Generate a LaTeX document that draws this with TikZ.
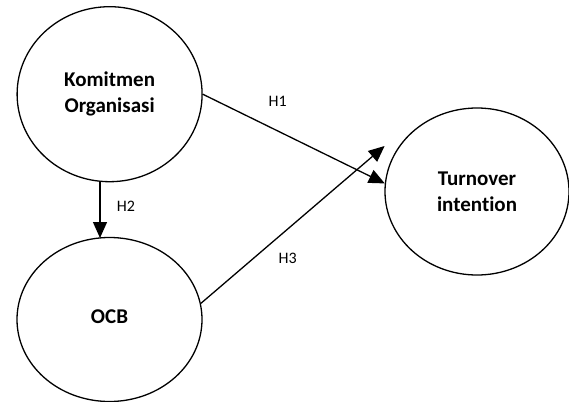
\documentclass[tikz,border=0pt]{standalone}
\usepackage{fontspec}
\setmainfont{Carlito}[Ligatures=NoCommon]
\usetikzlibrary{shapes.geometric,arrows.meta}
\begin{document}
\begin{tikzpicture}[x=1pt,y=-1pt,
  construct/.style={draw, line width=1.3pt, ellipse, inner sep=0pt, align=center,
    font=\fontsize{21}{26}\selectfont\bfseries},
  path/.style={draw, line width=1.3pt, -{Triangle[length=16pt,width=14pt]}},
  hyp/.style={font=\fontsize{16}{19}\selectfont, inner sep=0pt}]
\useasboundingbox (0,0) rectangle (569,401);
\fill[white] (0,0) rectangle (569,401);
\node[construct, minimum width=185pt, minimum height=175pt] (k) at (109.6,94.2) {Komitmen\\Organisasi};
\node[construct, minimum width=185pt, minimum height=164pt] (o) at (109.5,319.5) {\raisebox{5pt}{OCB}};
\node[construct, minimum width=184pt, minimum height=167pt] (t) at (477,191.5) {Turnover\\intention};
\coordinate (h3end) at (384.6,146);
\coordinate (h2a) at (100,181.5);
\coordinate (h2b) at (100,238);
\draw[path] (k.east) -- (t.175);
\draw[path] (h2a) -- (h2b);
\draw[path] (o.10) -- (h3end);
\node[hyp] (l1) at (277.7,101.7) {H1};
\node[hyp] (l2) at (126,206.7) {H2};
\node[hyp] (l3) at (287.7,258.3) {H3};
\end{tikzpicture}
\end{document}
